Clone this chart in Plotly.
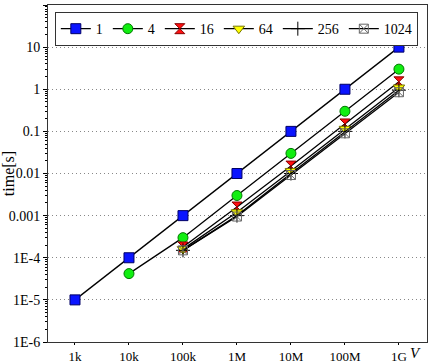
import plotly.graph_objects as go

# ---- data ----
sizes = [1e3, 1e4, 1e5, 1e6, 1e7, 1e8, 1e9]
series_names = ["1", "4", "16", "64", "256", "1024"]
t_1 = [1e-5, 1e-4, 1e-3, 1e-2, 1e-1, 1.0, 10.0]
t_4 = [None, 4.2e-5, 3.0e-4, 3.0e-3, 3.0e-2, 3.0e-1, 3.0]
t_16 = [None, None, 1.8e-4, 1.6e-3, 1.5e-2, 1.5e-1, 1.5]
t_64 = [None, None, 1.6e-4, 1.2e-3, 1.15e-2, 1.15e-1, 1.1]
t_256 = [None, None, 1.5e-4, 1.0e-3, 1.0e-2, 1.0e-1, 0.95]
t_1024 = [None, None, 1.5e-4, 0.95e-3, 0.92e-2, 0.9e-1, 0.85]

x_tickvals = [1e3, 1e4, 1e5, 1e6, 1e7, 1e8, 1e9]
x_ticktext = ["1k", "10k", "100k", "1M", "10M", "100M", "1G"]
y_tickvals = [100, 10, 1, 0.1, 0.01, 0.001, 1e-4, 1e-5, 1e-6]
y_ticktext = ["100", "10", "1", "0.1", "0.01", "0.001", "1E-4", "1E-5", "1E-6"]

values = [t_1, t_4, t_16, t_64, t_256, t_1024]
styles = [
    dict(symbol="square", size=10, color="#0a14ff", line=dict(color="#000066", width=1)),
    dict(symbol="circle", size=10, color="#11ee11", line=dict(color="#007700", width=1)),
    dict(symbol="hourglass", size=10, color="#ff1010", line=dict(color="#880000", width=1)),
    dict(symbol="triangle-down", size=10, color="#ffff00", line=dict(color="#777700", width=1)),
    dict(symbol="cross-thin", size=10, color="#000000", line=dict(color="#000000", width=1)),
    dict(symbol="square-x-open", size=9, color="#666666", line=dict(color="#666666", width=1)),
]

FONT = "Liberation Serif"

fig = go.Figure()
for name, ys, mk in zip(series_names, values, styles):
    fig.add_trace(go.Scatter(
        x=sizes, y=ys, name=name, mode="lines+markers",
        line=dict(color="black", width=1.3),
        marker=mk,
    ))

minor_y = [k * 10.0 ** e for e in range(-6, 2) for k in range(2, 10)]

fig.update_layout(
    width=429, height=364,
    margin=dict(l=48, r=2, t=5, b=22, autoexpand=False),
    paper_bgcolor="white", plot_bgcolor="white",
    font=dict(family=FONT, size=14, color="black"),
    showlegend=True,
    legend=dict(
        orientation="h", x=0.018, y=0.979, xanchor="left", yanchor="top",
        bordercolor="#333333", borderwidth=1, bgcolor="white",
        font=dict(family=FONT, size=14),
        tracegroupgap=0,
    ),
    xaxis=dict(
        type="log", range=[2.5, 9.52], automargin=False,
        tickvals=x_tickvals, ticktext=x_ticktext,
        ticks="outside", ticklen=2, tickcolor="black", tickwidth=1.2,
        showgrid=False, zeroline=False,
        showline=True, linecolor="#333333", linewidth=1, mirror=True,
        tickfont=dict(family=FONT, size=13),
    ),
    yaxis=dict(
        type="log", range=[-6, 2], automargin=False,
        tickvals=y_tickvals, ticktext=y_ticktext,
        ticks="outside", ticklen=4, tickcolor="black", tickwidth=1.2,
        showgrid=True, gridcolor="#888888", griddash="1px,3px", gridwidth=1,
        zeroline=False,
        showline=True, linecolor="#333333", linewidth=1, mirror=True,
        tickfont=dict(family=FONT, size=14),
        title=dict(text="time[s]", font=dict(family=FONT, size=16), standoff=2),
        minor=dict(tickvals=minor_y, ticks="outside", ticklen=2, tickcolor="black", showgrid=False),
    ),
    xaxis2=dict(
        type="log", range=[2.5, 9.52], overlaying="x", anchor="y", automargin=False,
        tickvals=x_tickvals, showticklabels=False,
        ticks="inside", ticklen=5, tickcolor="black", tickwidth=1.2,
        showgrid=False, zeroline=False, showline=False,
    ),
    yaxis2=dict(
        type="log", range=[-6, 2], overlaying="y", anchor="x", automargin=False,
        tickvals=y_tickvals, showticklabels=False,
        ticks="inside", ticklen=4, tickcolor="black", tickwidth=1.2,
        showgrid=False, zeroline=False, showline=False,
        minor=dict(tickvals=minor_y, ticks="inside", ticklen=2, tickcolor="black", showgrid=False),
    ),
    annotations=[dict(
        text="<i>V</i>", xref="paper", yref="paper", x=0.97, y=0,
        xanchor="center", yanchor="top", yshift=-1, showarrow=False,
        font=dict(family=FONT, size=15),
    )],
)

fig.write_html(
    "out.html",
    config={"displayModeBar": False},
    post_script="document.body.style.margin='0';document.body.style.padding='0';",
)
